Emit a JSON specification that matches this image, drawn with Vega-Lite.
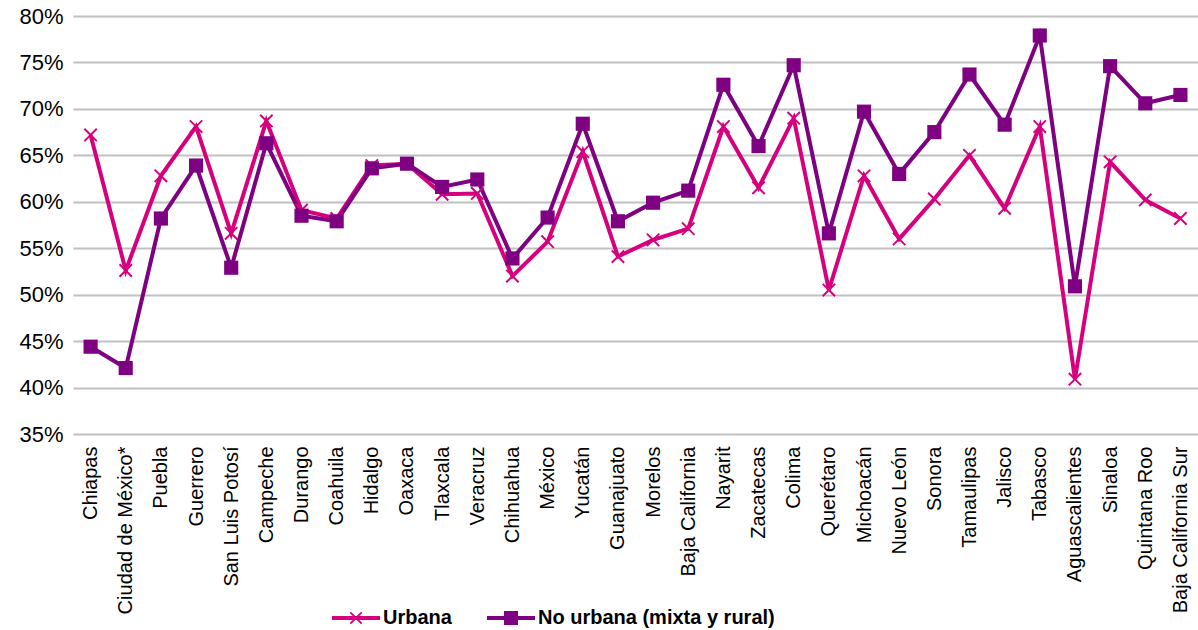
{
  "$schema": "https://vega.github.io/schema/vega-lite/v6.json",
  "width": 1125,
  "height": 418,
  "autosize": {"type": "none"},
  "padding": {"left": 73, "top": 16, "right": 0, "bottom": 196},
  "background": "white",
  "config": {
    "view": {"stroke": null},
    "font": "Liberation Sans"
  },
  "data": {
    "values": [
      {"estado": "Chiapas", "tipo": "Urbana", "valor": 0.672},
      {"estado": "Ciudad de México*", "tipo": "Urbana", "valor": 0.526},
      {"estado": "Puebla", "tipo": "Urbana", "valor": 0.628},
      {"estado": "Guerrero", "tipo": "Urbana", "valor": 0.681},
      {"estado": "San Luis Potosí", "tipo": "Urbana", "valor": 0.566},
      {"estado": "Campeche", "tipo": "Urbana", "valor": 0.687},
      {"estado": "Durango", "tipo": "Urbana", "valor": 0.591},
      {"estado": "Coahuila", "tipo": "Urbana", "valor": 0.582},
      {"estado": "Hidalgo", "tipo": "Urbana", "valor": 0.639},
      {"estado": "Oaxaca", "tipo": "Urbana", "valor": 0.641},
      {"estado": "Tlaxcala", "tipo": "Urbana", "valor": 0.608},
      {"estado": "Veracruz", "tipo": "Urbana", "valor": 0.609},
      {"estado": "Chihuahua", "tipo": "Urbana", "valor": 0.520},
      {"estado": "México", "tipo": "Urbana", "valor": 0.557},
      {"estado": "Yucatán", "tipo": "Urbana", "valor": 0.654},
      {"estado": "Guanajuato", "tipo": "Urbana", "valor": 0.541},
      {"estado": "Morelos", "tipo": "Urbana", "valor": 0.559},
      {"estado": "Baja California", "tipo": "Urbana", "valor": 0.571},
      {"estado": "Nayarit", "tipo": "Urbana", "valor": 0.681},
      {"estado": "Zacatecas", "tipo": "Urbana", "valor": 0.615},
      {"estado": "Colima", "tipo": "Urbana", "valor": 0.690},
      {"estado": "Querétaro", "tipo": "Urbana", "valor": 0.505},
      {"estado": "Michoacán", "tipo": "Urbana", "valor": 0.628},
      {"estado": "Nuevo León", "tipo": "Urbana", "valor": 0.560},
      {"estado": "Sonora", "tipo": "Urbana", "valor": 0.603},
      {"estado": "Tamaulipas", "tipo": "Urbana", "valor": 0.650},
      {"estado": "Jalisco", "tipo": "Urbana", "valor": 0.593},
      {"estado": "Tabasco", "tipo": "Urbana", "valor": 0.681},
      {"estado": "Aguascalientes", "tipo": "Urbana", "valor": 0.409},
      {"estado": "Sinaloa", "tipo": "Urbana", "valor": 0.643},
      {"estado": "Quintana Roo", "tipo": "Urbana", "valor": 0.602},
      {"estado": "Baja California Sur", "tipo": "Urbana", "valor": 0.582},
      {"estado": "Chiapas", "tipo": "No urbana (mixta y rural)", "valor": 0.444},
      {"estado": "Ciudad de México*", "tipo": "No urbana (mixta y rural)", "valor": 0.421},
      {"estado": "Puebla", "tipo": "No urbana (mixta y rural)", "valor": 0.582},
      {"estado": "Guerrero", "tipo": "No urbana (mixta y rural)", "valor": 0.639},
      {"estado": "San Luis Potosí", "tipo": "No urbana (mixta y rural)", "valor": 0.529},
      {"estado": "Campeche", "tipo": "No urbana (mixta y rural)", "valor": 0.663},
      {"estado": "Durango", "tipo": "No urbana (mixta y rural)", "valor": 0.585},
      {"estado": "Coahuila", "tipo": "No urbana (mixta y rural)", "valor": 0.579},
      {"estado": "Hidalgo", "tipo": "No urbana (mixta y rural)", "valor": 0.636},
      {"estado": "Oaxaca", "tipo": "No urbana (mixta y rural)", "valor": 0.641},
      {"estado": "Tlaxcala", "tipo": "No urbana (mixta y rural)", "valor": 0.616},
      {"estado": "Veracruz", "tipo": "No urbana (mixta y rural)", "valor": 0.624},
      {"estado": "Chihuahua", "tipo": "No urbana (mixta y rural)", "valor": 0.539},
      {"estado": "México", "tipo": "No urbana (mixta y rural)", "valor": 0.583},
      {"estado": "Yucatán", "tipo": "No urbana (mixta y rural)", "valor": 0.684},
      {"estado": "Guanajuato", "tipo": "No urbana (mixta y rural)", "valor": 0.579},
      {"estado": "Morelos", "tipo": "No urbana (mixta y rural)", "valor": 0.599},
      {"estado": "Baja California", "tipo": "No urbana (mixta y rural)", "valor": 0.612},
      {"estado": "Nayarit", "tipo": "No urbana (mixta y rural)", "valor": 0.726},
      {"estado": "Zacatecas", "tipo": "No urbana (mixta y rural)", "valor": 0.660},
      {"estado": "Colima", "tipo": "No urbana (mixta y rural)", "valor": 0.747},
      {"estado": "Querétaro", "tipo": "No urbana (mixta y rural)", "valor": 0.566},
      {"estado": "Michoacán", "tipo": "No urbana (mixta y rural)", "valor": 0.697},
      {"estado": "Nuevo León", "tipo": "No urbana (mixta y rural)", "valor": 0.630},
      {"estado": "Sonora", "tipo": "No urbana (mixta y rural)", "valor": 0.675},
      {"estado": "Tamaulipas", "tipo": "No urbana (mixta y rural)", "valor": 0.737},
      {"estado": "Jalisco", "tipo": "No urbana (mixta y rural)", "valor": 0.683},
      {"estado": "Tabasco", "tipo": "No urbana (mixta y rural)", "valor": 0.779},
      {"estado": "Aguascalientes", "tipo": "No urbana (mixta y rural)", "valor": 0.509},
      {"estado": "Sinaloa", "tipo": "No urbana (mixta y rural)", "valor": 0.746},
      {"estado": "Quintana Roo", "tipo": "No urbana (mixta y rural)", "valor": 0.706},
      {"estado": "Baja California Sur", "tipo": "No urbana (mixta y rural)", "valor": 0.715}
    ]
  },
  "encoding": {
    "x": {
      "field": "estado",
      "type": "nominal",
      "sort": null,
      "scale": {"type": "point", "padding": 0.5},
      "axis": {
        "title": null,
        "labelAngle": -90,
        "labelFontSize": 20,
        "labelColor": "#000000",
        "labelPadding": 12,
        "labelLimit": 400,
        "ticks": false,
        "domain": false,
        "grid": false
      }
    },
    "y": {
      "field": "valor",
      "type": "quantitative",
      "scale": {"domain": [0.35, 0.8], "nice": false, "zero": false},
      "axis": {
        "title": null,
        "values": [0.35, 0.4, 0.45, 0.5, 0.55, 0.6, 0.65, 0.7, 0.75, 0.8],
        "format": ".0%",
        "labelFontSize": 22,
        "labelColor": "#000000",
        "labelPadding": 10,
        "ticks": false,
        "domain": false,
        "gridColor": "#c0c0c0",
        "gridWidth": 2,
        "gridOpacity": 1
      }
    },
    "color": {
      "field": "tipo",
      "type": "nominal",
      "scale": {
        "domain": ["Urbana", "No urbana (mixta y rural)"],
        "range": ["#D6007F", "#7E0181"]
      },
      "legend": {
        "title": null,
        "orient": "none",
        "direction": "horizontal",
        "legendX": 273,
        "legendY": 592,
        "padding": 0,
        "labelFontSize": 20,
        "labelFontWeight": "bold",
        "labelColor": "#000000",
        "labelLimit": 400,
        "symbolSize": 196,
        "symbolOpacity": 1,
        "symbolStrokeWidth": 0,
        "columnPadding": 34,
        "labelOffset": 17
      }
    }
  },
  "layer": [
    {
      "mark": {"type": "line", "strokeWidth": 4}
    },
    {
      "transform": [{"filter": "datum.tipo === 'Urbana'"}],
      "mark": {
        "type": "point",
        "filled": true,
        "opacity": 1,
        "shape": "M-1,-0.8L-0.8,-1L0,-0.2L0.8,-1L1,-0.8L0.2,0L1,0.8L0.8,1L0,0.2L-0.8,1L-1,0.8L-0.2,0Z",
        "size": 190
      }
    },
    {
      "transform": [{"filter": "datum.tipo !== 'Urbana'"}],
      "mark": {"type": "point", "filled": true, "opacity": 1, "shape": "square", "size": 200}
    },
    {
      "mark": {"type": "point", "filled": true, "size": 0},
      "encoding": {
        "shape": {
          "field": "tipo",
          "type": "nominal",
          "scale": {
            "domain": ["Urbana", "No urbana (mixta y rural)"],
            "range": [
              "M-3.43,-0.286L3.43,-0.286L3.43,0.286L-3.43,0.286Z M-0.9,-0.72L-0.72,-0.9L0,-0.18L0.72,-0.9L0.9,-0.72L0.18,0L0.9,0.72L0.72,0.9L0,0.18L-0.72,0.9L-0.9,0.72L-0.18,0Z",
              "M-3.43,-0.286L3.43,-0.286L3.43,0.286L-3.43,0.286Z M-1,-1L1,-1L1,1L-1,1Z"
            ]
          },
          "legend": null
        }
      }
    }
  ]
}
